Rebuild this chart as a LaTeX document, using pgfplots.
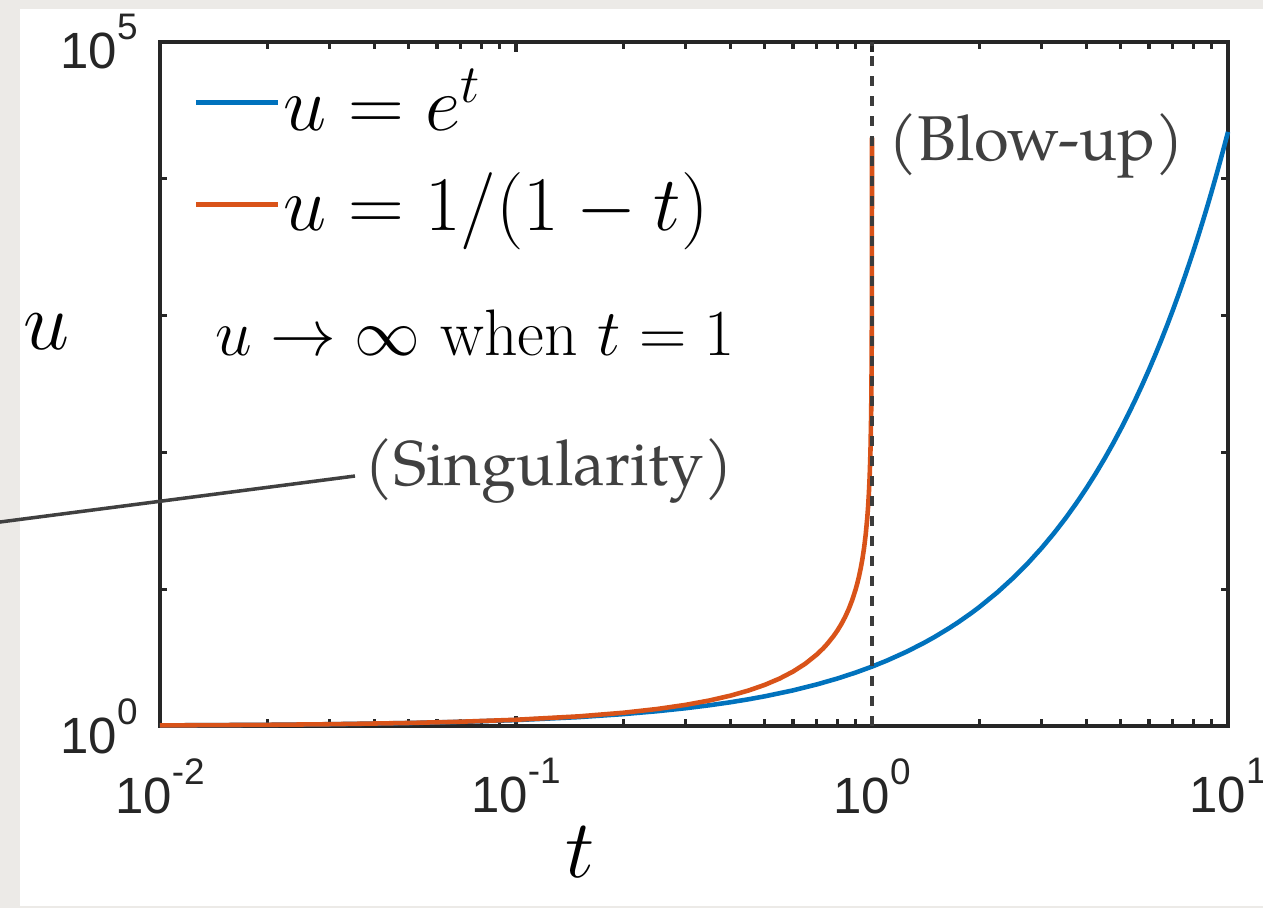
\RequirePackage{fix-cm}
\documentclass[border=0pt]{standalone}
\usepackage{fontspec}
\usepackage{pgfplots}
\pgfplotsset{compat=1.18}
\newfontfamily\ticksf{Liberation Sans}
\newfontfamily\pala{TeX Gyre Pagella}
% MATLAB style 10^n tick label
\newcommand{\tl}[1]{10\raisebox{0.57em}{\fontsize{10.5}{10.5}\selectfont #1}}
\definecolor{mblue}{HTML}{0072BD}
\definecolor{morange}{HTML}{D95319}
\definecolor{axiscol}{HTML}{262626}
\definecolor{annot}{HTML}{404040}
\definecolor{paper}{HTML}{ECEAE7}

\begin{document}
\begin{tikzpicture}
\fill[paper] (0,0) rectangle (12.63,-9.08);
\fill[white] (0.20,-0.09) rectangle (12.63,-9.06);
\useasboundingbox (0,0) rectangle (12.63,-9.08);
\begin{axis}[
    at={(1.60cm,-7.26cm)}, anchor=south west,
    scale only axis, width=10.68cm, height=6.84cm,
    xmode=log, ymode=log,
    xmin=0.01, xmax=10, ymin=1, ymax=1e5,
    clip=false,
    axis line style={axiscol, line width=1.05pt},
    every tick/.style={axiscol, line width=0.9pt},
    major tick length=0.1cm, minor tick length=0.07cm,
    xtick={0.01,0.1,1,10},
    xticklabels={\tl{-2},\tl{-1},\tl{0},\tl{1}},
    ytick={1,100000}, yticklabels={\tl{0},\tl{5}},
    minor ytick={10,100,1000,10000},
    tick label style={font=\ticksf\fontsize{14.5}{14.5}\selectfont, text=axiscol},
    xticklabel style={yshift=-0.2cm},
    yticklabel style={xshift=-0.1cm},
    xlabel={$t$}, ylabel={$u$},
    every axis x label/.style={at={(rel axis cs:0.393,-0.184)}, anchor=center,
        font=\fontsize{23.5}{23.5}\selectfont},
    every axis y label/.style={at={(rel axis cs:-0.1063,0.576)}, anchor=center,
        font=\fontsize{23.5}{23.5}\selectfont},
    legend style={at={(0.0309,0.8385)}, anchor=west, draw=none, fill=none,
        inner sep=0pt, row sep=0.3cm,
        font=\fontsize{22}{22}\selectfont,
        nodes={inner sep=1pt}},
    legend cell align=left,
    legend image code/.code={\draw[#1, line width=1.3pt] (0cm,0cm) -- (0.82cm,0cm);},
]
\addplot[mblue, line width=1.3pt] coordinates {
(0.01,1.01005)(0.02,1.0202)(0.03,1.0305)(0.05,1.0513)(0.07,1.0725)(0.1,1.1052)
(0.15,1.1618)(0.2,1.2214)(0.25,1.2840)(0.3,1.3499)(0.35,1.4191)(0.4,1.4918)
(0.45,1.5683)(0.5,1.6487)(0.6,1.8221)(0.7,2.0138)(0.8,2.2255)(0.9,2.4596)
(1,2.7183)(1.1,3.0042)(1.25,3.4903)(1.4,4.0552)(1.5,4.4817)(1.65,5.2070)
(1.75,5.7546)(1.9,6.6859)(2,7.3891)(2.25,9.4877)(2.5,12.182)(2.75,15.643)
(3,20.086)(3.25,25.790)(3.5,33.115)(3.75,42.521)(4,54.598)(4.25,70.105)
(4.5,90.017)(4.75,115.58)(5,148.41)(5.25,190.57)(5.5,244.69)(5.75,314.19)
(6,403.43)(6.25,518.01)(6.5,665.14)(6.75,854.06)(7,1096.6)(7.25,1408.1)
(7.5,1808.0)(7.75,2321.6)(8,2981.0)(8.25,3827.6)(8.5,4914.8)(8.75,6310.7)
(9,8103.1)(9.25,10405)(9.5,13360)(9.75,17154)(10,22026)
};
\addlegendentry{$u=e^t$}
\addplot[morange, line width=1.3pt] coordinates {
(0.01,1.0101)(0.02,1.0204)(0.03,1.0309)(0.05,1.0526)(0.07,1.0753)(0.1,1.1111)
(0.15,1.1765)(0.2,1.25)(0.25,1.3333)(0.3,1.4286)(0.35,1.5385)(0.4,1.6667)
(0.45,1.8182)(0.5,2)(0.55,2.2222)(0.6,2.5)(0.65,2.8571)(0.7,3.3333)
(0.73,3.7037)(0.75,4)(0.78,4.5455)(0.8,5)(0.82,5.5556)(0.84,6.25)(0.86,7.1429)
(0.88,8.3333)(0.9,10)(0.91,11.111)(0.92,12.5)(0.93,14.286)(0.94,16.667)
(0.95,20)(0.96,25)(0.97,33.333)(0.975,40)(0.98,50)(0.985,66.667)
(0.99,100)(0.995,200)(0.998,500)(0.999,1000)(0.9995,2000)(0.9998,5000)
(0.9999,10000)(0.99995,20000)
};
\addlegendentry{$u=1/(1-t)$}
\addplot[axiscol!90, line width=1.1pt, dash pattern=on 0.1cm off 0.1cm, forget plot]
  coordinates {(1,1)(1,100000)};
\end{axis}
\node[anchor=base west, inner sep=0pt, font=\fontsize{18.7}{18.7}\selectfont]
  at (2.15,-3.55) {$u\to\infty$ when $t=1$};
\node[anchor=base west, inner sep=0pt, text=annot, font=\pala\fontsize{18}{18}\selectfont]
  at (8.88,-1.60) {(Blow-up)};
\node[anchor=base west, inner sep=0pt, text=annot, font=\pala\fontsize{18}{18}\selectfont]
  at (3.64,-4.85) {(Singularity)};
\draw[annot, line width=1pt] (0,-5.22) -- (3.55,-4.76);
\end{tikzpicture}
\end{document}
